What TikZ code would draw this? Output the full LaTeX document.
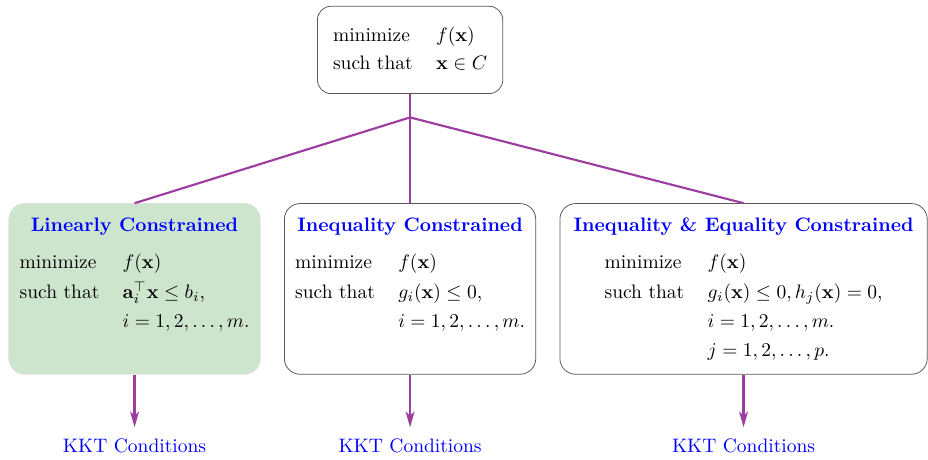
\documentclass[tikz,border=0pt]{standalone}
\usepackage{amsmath,amssymb}
\usetikzlibrary{arrows.meta,positioning,calc}
\definecolor{branchpurple}{RGB}{155,62,160}
\definecolor{linfill}{RGB}{205,229,204}
\renewcommand{\arraystretch}{1.25}
\newcommand{\probtitle}[1]{\rule{0pt}{10pt}\textbf{\color{blue}#1}}

\begin{document}
\begin{tikzpicture}[node distance=56pt and 12pt,every node/.style={font=\normalsize},
 probbox/.style={draw=black!65,rounded corners=7pt,inner xsep=8pt,inner ysep=8pt,align=left},
 box/.style={draw=black!65,rounded corners=8pt,inner xsep=5.5pt,inner ysep=4.5pt,align=center},
 kkt/.style={text=blue},
 link/.style={branchpurple,line width=1.1pt},
 arr/.style={-{Stealth[length=8pt,width=4.5pt,inset=2pt]},branchpurple,line width=1.1pt,shorten >=2.5pt}]
\node[probbox] (prob) {\renewcommand{\arraystretch}{1.2}\begin{tabular}{@{}l@{\hspace{12pt}}l@{}}
 minimize & $f(\mathbf{x})$\\ such that & $\mathbf{x}\in C$\end{tabular}};
\node[box,below=of prob] (ineq) {\probtitle{Inequality Constrained}\\[5.5pt]
 \begin{tabular}[t]{@{}l@{\hspace{12pt}}l@{}}
 minimize & $f(\mathbf{x})$\\ such that & $g_i(\mathbf{x})\le 0$,\\ & $i=1,2,\ldots,m.$\\ & \end{tabular}};
\node[box,fill=linfill,draw=black!12,left=of ineq] (lin) {\probtitle{Linearly Constrained}\\[5.5pt]
 \begin{tabular}[t]{@{}l@{\hspace{12pt}}l@{}}
 minimize & $f(\mathbf{x})$\\ such that & $\mathbf{a}_i^\top\mathbf{x}\le b_i$,\\ & $i=1,2,\ldots,m.$\\ & \end{tabular}};
\node[box,inner xsep=7pt,right=of ineq] (ineqeq) {\probtitle{Inequality \& Equality Constrained}\\[5.5pt]
 \begin{tabular}[t]{@{}l@{\hspace{12pt}}l@{}}
 minimize & $f(\mathbf{x})$\\ such that & $g_i(\mathbf{x})\le 0, h_j(\mathbf{x})=0$,\\
 & $i=1,2,\ldots,m.$\\ & $j=1,2,\ldots,p.$\end{tabular}};
\coordinate[below=12pt of prob] (split);
\draw[link] (prob) -- (split);
\foreach \n in {lin,ineq,ineqeq}{
 \draw[link] (split) -- (\n.north);
 \node[kkt,below=29.5pt of \n] (kkt\n) {KKT Conditions};
 \draw[arr] (\n) -- (kkt\n);
}
\useasboundingbox ($(prob.center)+(-210.3pt,25.6pt)$) rectangle ++(475.9pt,-231.8pt);
\end{tikzpicture}
\end{document}
